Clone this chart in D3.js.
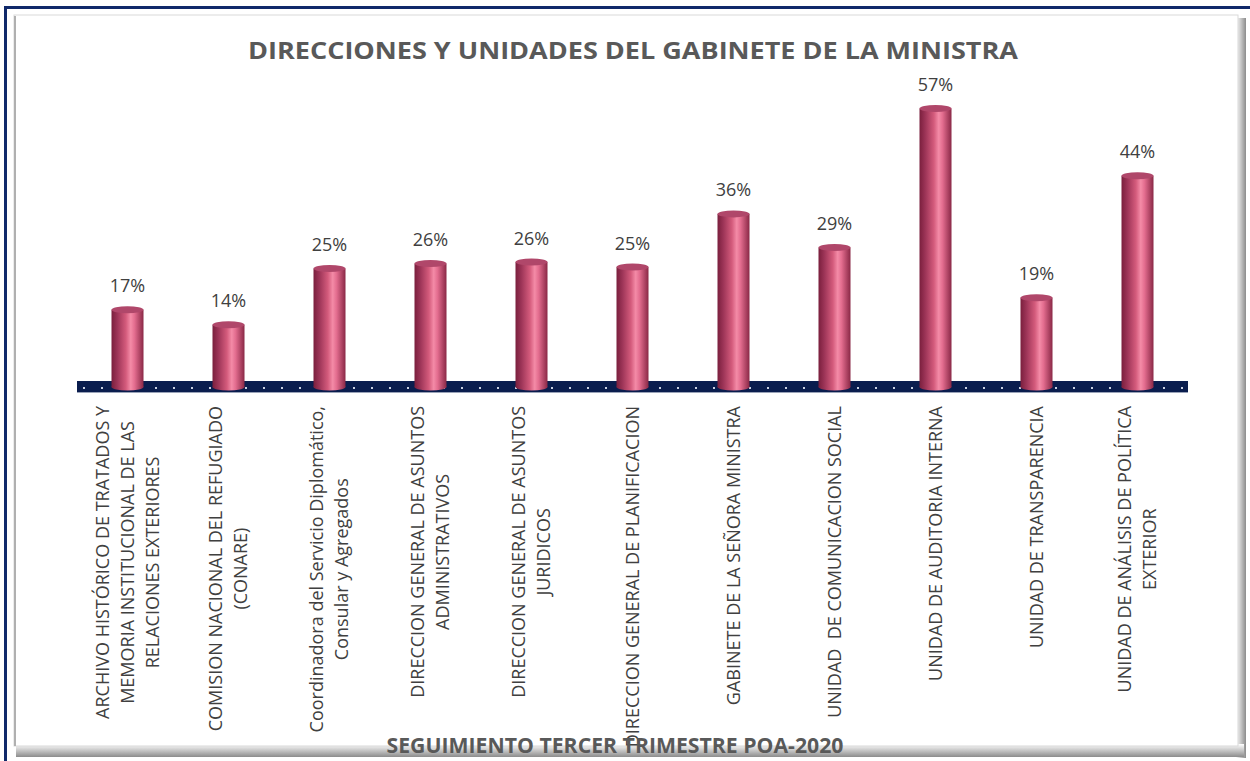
<!DOCTYPE html>
<html>
<head>
<meta charset="utf-8">
<script src="https://d3js.org/d3.v7.min.js"></script>
<style>
  body { margin: 0; background: #fff; }
  svg { display: block; font-family: "Open Sans", sans-serif; }
</style>
</head>
<body>
<div id="chart"></div>
<script>
// categories, split the way the axis labels wrap
var categories = [
  ["ARCHIVO HISTÓRICO DE TRATADOS Y", "MEMORIA INSTITUCIONAL DE LAS", "RELACIONES EXTERIORES"],
  ["COMISION NACIONAL DEL REFUGIADO", "(CONARE)"],
  ["Coordinadora del Servicio Diplomático,", "Consular y Agregados"],
  ["DIRECCION GENERAL DE ASUNTOS", "ADMINISTRATIVOS"],
  ["DIRECCION GENERAL DE ASUNTOS", "JURIDICOS"],
  ["DIRECCION GENERAL DE PLANIFICACION"],
  ["GABINETE DE LA SEÑORA MINISTRA"],
  ["UNIDAD  DE COMUNICACION SOCIAL"],
  ["UNIDAD DE AUDITORIA INTERNA"],
  ["UNIDAD DE TRANSPARENCIA"],
  ["UNIDAD DE ANÁLISIS DE POLÍTICA", "EXTERIOR"]
];
var values = [0.169, 0.139, 0.251, 0.261, 0.264, 0.254, 0.36, 0.293, 0.57, 0.193, 0.436];
var title = "DIRECCIONES Y UNIDADES DEL GABINETE DE LA MINISTRA";
var subtitle = "SEGUIMIENTO TERCER TRIMESTRE POA-2020";

var W = 1250, H = 761;
var svg = d3.select("#chart").append("svg")
    .attr("width", W)
    .attr("height", H);

var defs = svg.append("defs");

// cylinder shading
var cyl = defs.append("linearGradient").attr("id", "cyl");
[[0, "#7a1f3d"], [0.18, "#9c3457"], [0.45, "#d45b7c"], [0.6, "#f48ba7"], [0.72, "#e36d8f"], [1, "#8a2846"]]
  .forEach(function(s) { cyl.append("stop").attr("offset", s[0]).attr("stop-color", s[1]); });

var shR = defs.append("linearGradient").attr("id", "shR");
shR.append("stop").attr("offset", 0).attr("stop-color", "#ffffff");
shR.append("stop").attr("offset", 1).attr("stop-color", "#8c8c8c");
var shB = defs.append("linearGradient").attr("id", "shB")
    .attr("x1", 0).attr("y1", 0).attr("x2", 0).attr("y2", 1);
shB.append("stop").attr("offset", 0).attr("stop-color", "#ffffff");
shB.append("stop").attr("offset", 1).attr("stop-color", "#8c8c8c");

var dots = defs.append("pattern").attr("id", "dots")
    .attr("patternUnits", "userSpaceOnUse")
    .attr("width", 18).attr("height", 11).attr("x", 77).attr("y", 381);
dots.append("rect").attr("width", 18).attr("height", 11).attr("fill", "#0a1d4e");
dots.append("rect").attr("x", 6).attr("y", 6).attr("width", 2).attr("height", 2).attr("fill", "#c9d0e0");

// outer frame + panel
svg.append("rect").attr("x", 5.5).attr("y", 7.5).attr("width", W).attr("height", H)
    .attr("fill", "none").attr("stroke", "#10296a").attr("stroke-width", 3);
svg.append("rect").attr("x", 1236).attr("y", 18).attr("width", 10).attr("height", 740).attr("fill", "url(#shR)");
svg.append("rect").attr("x", 16).attr("y", 744).attr("width", 1228).attr("height", 13).attr("fill", "url(#shB)");
svg.append("rect").attr("x", 14).attr("y", 15).attr("width", 1224).attr("height", 731)
    .attr("fill", "#fff").attr("stroke", "#d9d9d9").attr("stroke-width", 1);
svg.append("line").attr("x1", 15).attr("x2", 15).attr("y1", 16).attr("y2", 746)
    .attr("stroke", "#b0b0b0").attr("stroke-width", 2);

// scales
var x = d3.scaleBand().domain(d3.range(categories.length)).range([77, 1188]);
var y = d3.scaleLinear().domain([0, 0.6]).range([391, 90]);
var barW = 32, ry = 3.5, base = 387;

// floor
svg.append("rect").attr("x", 77).attr("y", 381).attr("width", 1111).attr("height", 11)
    .attr("fill", "url(#dots)");
svg.append("line").attr("x1", 77).attr("x2", 1188).attr("y1", 392.5).attr("y2", 392.5)
    .attr("stroke", "#9aa3b8").attr("stroke-width", 1);

// bars
var bar = svg.append("g").selectAll("g").data(values).enter().append("g")
    .attr("transform", function(d, i) { return "translate(" + (x(i) + x.bandwidth() / 2) + ",0)"; });
bar.append("ellipse").attr("cx", 0).attr("cy", base).attr("rx", barW / 2).attr("ry", ry)
    .attr("fill", "url(#cyl)");
bar.append("rect").attr("x", -barW / 2).attr("width", barW)
    .attr("y", function(d) { return y(d) + ry; })
    .attr("height", function(d) { return base - y(d) - ry; })
    .attr("fill", "url(#cyl)");
bar.append("ellipse").attr("cx", 0).attr("cy", function(d) { return y(d) + ry; })
    .attr("rx", barW / 2).attr("ry", ry).attr("fill", "#b0476a");

// value labels
bar.append("text").attr("text-anchor", "middle")
    .attr("y", function(d) { return y(d) - 14; })
    .attr("font-size", 18).attr("fill", "#404040")
    .text(function(d) { return Math.round(d * 100) + "%"; });

// category labels (rotated, centred lines, top-anchored under the floor)
var lineGap = 25, labelTop = 406;
categories.forEach(function(lines, i) {
  var cx = x(i) + x.bandwidth() / 2;
  var g = svg.append("g");
  var texts = lines.map(function(t) {
    return g.append("text").attr("text-anchor", "middle")
      .attr("font-size", 18).attr("fill", "#404040")
      .style("white-space", "pre").text(t);
  });
  var maxW = d3.max(texts, function(t) { return t.node().getComputedTextLength(); });
  texts.forEach(function(t, j) {
    var bx = cx + (j - (lines.length - 1) / 2) * lineGap + 6;
    t.attr("transform", "translate(" + bx + "," + (labelTop + maxW / 2) + ") rotate(-90)");
  });
});

// titles
svg.append("text").attr("x", 633).attr("y", 59).attr("text-anchor", "middle")
    .attr("font-size", 24).attr("font-weight", "bold").attr("fill", "#595959")
    .attr("textLength", 770).attr("lengthAdjust", "spacingAndGlyphs")
    .text(title);
svg.append("text").attr("x", 615).attr("y", 753).attr("text-anchor", "middle")
    .attr("font-size", 21).attr("font-weight", "bold").attr("fill", "#595959")
    .attr("textLength", 457).attr("lengthAdjust", "spacingAndGlyphs")
    .text(subtitle);
</script>
</body>
</html>
